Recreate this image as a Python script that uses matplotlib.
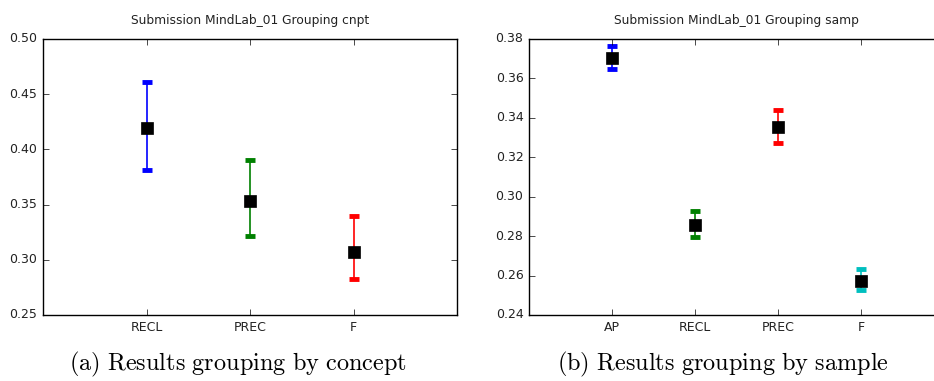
import matplotlib
matplotlib.use('Agg')
import matplotlib.pyplot as plt

plt.style.use('classic')
plt.rcParams['mathtext.fontset'] = 'cm'

## concept grouping
cnpt_labels = ['RECL', 'PREC', 'F']
cnpt_mean = [0.4196, 0.353, 0.307]
cnpt_low = [0.381, 0.3216, 0.283]
cnpt_high = [0.461, 0.3903, 0.340]
cnpt_colors = ['b', 'g', 'r']

## sample grouping
samp_labels = ['AP', 'RECL', 'PREC', 'F']
samp_mean = [0.3702, 0.2857, 0.3355, 0.2574]
samp_low = [0.3646, 0.2796, 0.3274, 0.2527]
samp_high = [0.3764, 0.2928, 0.3438, 0.2632]
samp_colors = ['b', 'g', 'r', 'c']

fig = plt.figure(figsize=(9.34, 3.81), dpi=100, facecolor='white')
ax1 = fig.add_axes([43/934, 66/381, 414/934, 276/381])
ax2 = fig.add_axes([529/934, 66/381, 415/934, 276/381])


def draw(ax, labels, mean, low, high, colors, title, ylim, yticks):
    for i in range(len(labels)):
        x = i + 1
        ax.errorbar([x], [mean[i]], yerr=[[mean[i] - low[i]], [high[i] - mean[i]]],
                    fmt='none', ecolor=colors[i], elinewidth=1.2, capsize=3.5, capthick=3.5)
        ax.plot([x], [mean[i]], 'ks', markersize=8.5)
    ax.set_xlim(0, len(labels) + 1)
    ax.set_ylim(*ylim)
    ax.set_xticks(range(1, len(labels) + 1))
    ax.set_xticklabels(labels)
    ax.set_yticks(yticks)
    ax.tick_params(labelsize=9, length=4)
    for lab in ax.get_xticklabels() + ax.get_yticklabels():
        lab.set_color('#222222')
    ax.set_title(title, fontsize=8.8, color='#222222', y=1.03)


draw(ax1, cnpt_labels, cnpt_mean, cnpt_low, cnpt_high, cnpt_colors,
     'Submission MindLab_01 Grouping cnpt', (0.25, 0.50),
     [0.25, 0.30, 0.35, 0.40, 0.45, 0.50])
draw(ax2, samp_labels, samp_mean, samp_low, samp_high, samp_colors,
     'Submission MindLab_01 Grouping samp', (0.24, 0.38),
     [0.24, 0.26, 0.28, 0.30, 0.32, 0.34, 0.36, 0.38])

fig.text(238/934, 1 - 364/381, r'$\mathrm{(a)\ Results\ grouping\ by\ concept}$',
         ha='center', va='center', fontsize=17.5)
fig.text(723/934, 1 - 364/381, r'$\mathrm{(b)\ Results\ grouping\ by\ sample}$',
         ha='center', va='center', fontsize=17.5)

fig.savefig('out.png', dpi=100, facecolor='white')
